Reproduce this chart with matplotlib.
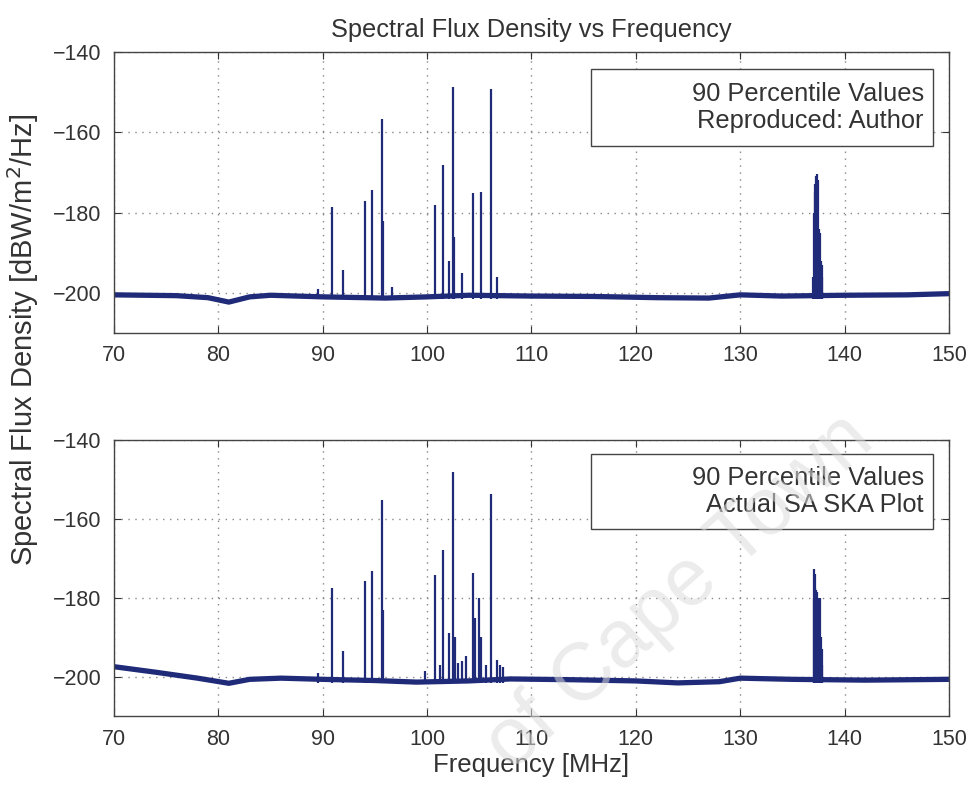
import numpy as np
import matplotlib.pyplot as plt
from matplotlib.patches import Rectangle

plt.rcParams['font.family'] = ['Liberation Sans', 'DejaVu Sans']

# baseline (noise floor) level at key frequencies
top_base_f = [70, 76, 79, 81, 83, 85, 90, 96, 100, 104, 110, 116, 122, 127, 130, 134, 140, 146, 150]
top_base_v = [-200.5, -200.7, -201.2, -202.3, -201.0, -200.6, -201.0, -201.3, -201.0, -200.6,
              -200.8, -200.9, -201.2, -201.3, -200.5, -200.8, -200.6, -200.5, -200.2]
bot_base_f = [70, 74, 78, 81, 83, 86, 90, 95, 99, 104, 108, 114, 120, 124, 128, 130, 135, 142, 150]
bot_base_v = [-197.4, -198.8, -200.3, -201.6, -200.6, -200.3, -200.6, -200.9, -201.3, -201.0,
              -200.5, -200.7, -201.0, -201.5, -201.2, -200.3, -200.6, -200.8, -200.6]

# spikes (frequency MHz, peak level)
top_peak_f = [89.5, 90.9, 91.9, 94.0, 94.7, 95.65, 95.75, 96.6, 100.77, 101.53, 102.05, 102.46,
              102.6, 103.35, 104.43, 105.16, 106.1, 106.66, 137.0, 137.1, 137.15, 137.2, 137.3,
              137.4, 137.45, 137.5, 137.6, 137.7, 137.8, 137.85]
top_peak_v = [-199.0, -178.7, -194.3, -177.0, -174.5, -156.8, -182.0, -198.5, -178.2, -168.2, -192.0,
              -148.8, -186.0, -195.0, -175.1, -175.0, -149.1, -196.0, -196.0, -180.0, -175.0,
              -173.0, -171.0, -170.3, -172.0, -184.0, -185.0, -192.0, -193.0, -196.0]

bot_peak_f = [89.5, 90.9, 91.9, 94.0, 94.7, 95.7, 95.8, 99.8, 100.77, 101.2, 101.53, 102.05, 102.5,
              102.65, 103.0, 103.35, 103.7, 104.43, 104.55, 105.0, 105.2, 105.6, 106.1, 106.66,
              107.0, 107.3, 137.05, 137.1, 137.15, 137.2, 137.3, 137.4, 137.5, 137.6, 137.7,
              137.8, 137.85]
bot_peak_v = [-199.0, -177.4, -193.3, -175.8, -173.1, -155.3, -183.0, -198.5, -174.1, -197.0,
              -167.8, -188.8, -148.1, -190.0, -196.5, -196.0, -194.7, -173.7, -185.0, -179.9,
              -190.0, -197.0, -153.6, -195.6, -197.0, -197.5, -180.0, -172.7, -174.0, -177.5,
              -178.0, -178.5, -180.0, -180.0, -190.0, -193.0, -197.0]

legend_top = '90 Percentile Values\nReproduced: Author'
legend_bot = '90 Percentile Values\nActual SA SKA Plot'

xticks = np.arange(70, 151, 10)
yticks = [-140, -160, -180, -200]

line_c = '#1f2b78'
text_c = '#333333'

fig = plt.figure(figsize=(9.72, 7.85), dpi=100)
ax1 = fig.add_axes([0.1173, 0.5758, 0.859, 0.358])
ax2 = fig.add_axes([0.1173, 0.0873, 0.859, 0.3522])

panels = [(ax1, top_base_f, top_base_v, top_peak_f, top_peak_v, legend_top, 0.665, 0.9395),
          (ax2, bot_base_f, bot_base_v, bot_peak_f, bot_peak_v, legend_bot, 0.678, 0.949)]

for ax, bf, bv, pf, pv, leg, yb, yt in panels:
    ax.plot(bf, bv, color=line_c, lw=3.8, solid_capstyle='butt')
    ax.vlines(pf, -201.5, pv, color=line_c, lw=1.6)
    ax.set_xlim(70, 150)
    ax.set_ylim(-210, -140)
    ax.set_xticks(xticks)
    ax.set_yticks(yticks)
    ax.grid(True, linestyle=(0, (1, 4)), color='#888888', lw=1.0)
    ax.tick_params(direction='in', top=True, right=True, labelsize=15.5,
                   colors=text_c, length=5, pad=9)
    for s in ax.spines.values():
        s.set_color('#444444')
        s.set_linewidth(1.0)
    ax.add_patch(Rectangle((0.571, yb), 0.41, yt - yb, transform=ax.transAxes,
                           facecolor='white', edgecolor='#444444', lw=1.0, zorder=4))
    ax.text(0.97, (yb + yt) / 2, leg, transform=ax.transAxes, ha='right', va='center',
            fontsize=18.3, color=text_c, linespacing=1.2, zorder=5)

ax1.set_title('Spectral Flux Density vs Frequency', fontsize=18.3, color=text_c, pad=11)
ax2.set_xlabel('Frequency [MHz]', fontsize=18.5, color=text_c, labelpad=2)
fig.text(0.024, 0.567, 'Spectral Flux Density [dBW/m$^2$/Hz]', rotation=90,
         ha='center', va='center', fontsize=21, color=text_c)

# faint scan watermark
fig.text(0.70, 0.245, 'of Cape Town', rotation=42, ha='center', va='center',
         fontsize=58, color='#dcdcdc', alpha=0.55, zorder=10)

fig.savefig('out.png', dpi=100)
